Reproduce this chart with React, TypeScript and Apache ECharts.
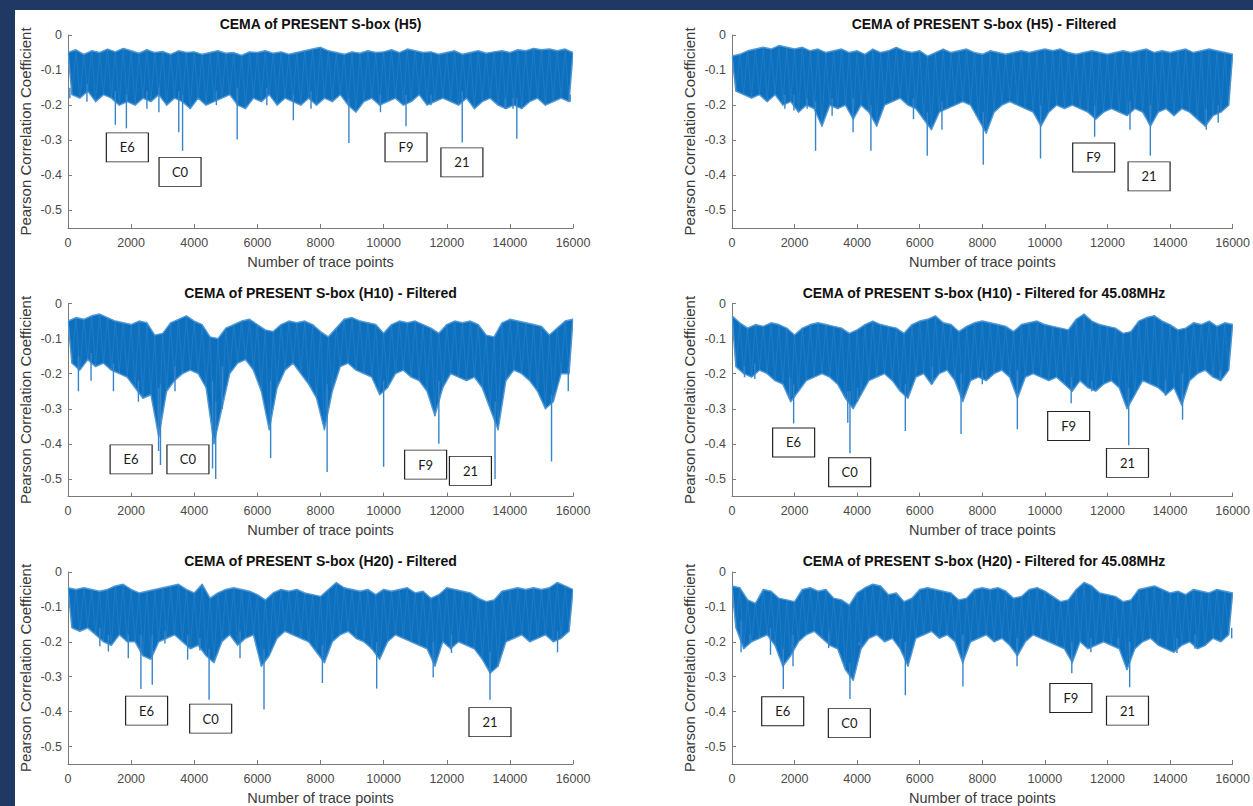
import { useEffect, useRef } from 'react';
import * as echarts from 'echarts';

// ---------- data ----------
// Each trace is stored as an upper envelope (hi, sampled every 250 trace points from 0)
// and a lower envelope (lo, sampled every 250 points from 125), plus narrow downward spikes [x, tip].
const STEP = 250;
const yTickValues = [0, -0.1, -0.2, -0.3, -0.4, -0.5];

const titles = [
  'CEMA of PRESENT S-box (H5)',
  'CEMA of PRESENT S-box (H5) - Filtered',
  'CEMA of PRESENT S-box (H10) - Filtered',
  'CEMA of PRESENT S-box (H10) - Filtered for 45.08MHz',
  'CEMA of PRESENT S-box (H20) - Filtered',
  'CEMA of PRESENT S-box (H20) - Filtered for 45.08MHz',
];

const hiH5 = [
  -0.05, -0.042, -0.055, -0.045, -0.05, -0.04, -0.048, -0.038,
  -0.045, -0.052, -0.042, -0.05, -0.047, -0.055, -0.045, -0.05,
  -0.048, -0.055, -0.05, -0.045, -0.052, -0.05, -0.058, -0.048,
  -0.05, -0.045, -0.052, -0.048, -0.055, -0.05, -0.045, -0.04,
  -0.035, -0.045, -0.05, -0.055, -0.048, -0.052, -0.045, -0.05,
  -0.048, -0.042, -0.05, -0.04, -0.045, -0.05, -0.048, -0.055,
  -0.05, -0.045, -0.055, -0.05, -0.045, -0.052, -0.048, -0.045,
  -0.05, -0.042, -0.045, -0.038, -0.042, -0.04, -0.045, -0.04,
  -0.05,
];
const loH5 = [
  -0.17, -0.18, -0.16, -0.19, -0.17, -0.18, -0.2, -0.19,
  -0.2, -0.18, -0.19, -0.17, -0.2, -0.18, -0.19, -0.21,
  -0.18, -0.2, -0.19, -0.18, -0.17, -0.2, -0.21, -0.18,
  -0.19, -0.17, -0.2, -0.18, -0.19, -0.2, -0.18, -0.2,
  -0.18, -0.19, -0.17, -0.2, -0.22, -0.19, -0.18, -0.2,
  -0.19, -0.18, -0.2, -0.19, -0.17, -0.2, -0.19, -0.18,
  -0.19, -0.2, -0.18, -0.21, -0.19, -0.18, -0.2, -0.21,
  -0.2, -0.21, -0.19, -0.18, -0.2, -0.19, -0.18, -0.19,
];
const spikesH5 = [
  [60, -0.18], [600, -0.19], [1500, -0.256], [1850, -0.266], [2500, -0.21], [2880, -0.22],
  [3510, -0.277], [3630, -0.33], [4700, -0.2], [5360, -0.298], [6300, -0.2], [7140, -0.243],
  [7700, -0.21], [8900, -0.308], [9900, -0.22], [10710, -0.26], [11500, -0.2], [12490, -0.306],
  [13850, -0.21], [14100, -0.21], [14220, -0.296], [15910, -0.19],
];
const notesH5: [string, number, number][] = [
  ['E6', 1880, -0.32], ['C0', 3550, -0.39], ['F9', 10710, -0.32], ['21', 12480, -0.363],
];

const hiH5F = [
  -0.06, -0.055, -0.045, -0.04, -0.035, -0.04, -0.03, -0.035,
  -0.04, -0.035, -0.045, -0.04, -0.05, -0.045, -0.04, -0.05,
  -0.045, -0.055, -0.04, -0.05, -0.045, -0.035, -0.045, -0.05,
  -0.045, -0.06, -0.05, -0.04, -0.05, -0.045, -0.04, -0.05,
  -0.055, -0.045, -0.05, -0.055, -0.05, -0.045, -0.05, -0.045,
  -0.04, -0.045, -0.04, -0.05, -0.055, -0.05, -0.045, -0.05,
  -0.055, -0.05, -0.045, -0.05, -0.045, -0.04, -0.05, -0.045,
  -0.05, -0.045, -0.04, -0.05, -0.045, -0.04, -0.045, -0.05,
  -0.055,
];
const loH5F = [
  -0.16, -0.17, -0.18, -0.17, -0.19, -0.17, -0.2, -0.19,
  -0.22, -0.2, -0.21, -0.26, -0.2, -0.21, -0.2, -0.24,
  -0.2, -0.22, -0.26, -0.2, -0.19, -0.18, -0.2, -0.21,
  -0.24, -0.27, -0.22, -0.21, -0.2, -0.19, -0.2, -0.24,
  -0.28, -0.22, -0.2, -0.19, -0.2, -0.21, -0.22, -0.26,
  -0.22, -0.2, -0.21, -0.2, -0.21, -0.22, -0.24, -0.22,
  -0.21, -0.22, -0.23, -0.21, -0.22, -0.26, -0.22, -0.21,
  -0.23, -0.21, -0.22, -0.24, -0.26, -0.23, -0.22, -0.2,
];
const spikesH5F = [
  [1690, -0.21], [1980, -0.215], [2400, -0.21], [2670, -0.33], [3200, -0.23], [3870, -0.277],
  [4440, -0.33], [5800, -0.24], [6240, -0.344], [6710, -0.27], [8030, -0.37], [9860, -0.352],
  [11590, -0.29], [12720, -0.27], [13370, -0.344], [15160, -0.27], [15540, -0.25],
];
const notesH5F: [string, number, number][] = [
  ['F9', 11560, -0.349], ['21', 13330, -0.403],
];

const hiH10F = [
  -0.05, -0.04, -0.045, -0.035, -0.03, -0.04, -0.05, -0.055,
  -0.06, -0.05, -0.055, -0.09, -0.085, -0.055, -0.045, -0.035,
  -0.05, -0.06, -0.095, -0.1, -0.07, -0.06, -0.05, -0.045,
  -0.06, -0.075, -0.08, -0.06, -0.05, -0.055, -0.05, -0.06,
  -0.08, -0.095, -0.07, -0.045, -0.04, -0.05, -0.055, -0.06,
  -0.085, -0.06, -0.05, -0.055, -0.05, -0.06, -0.07, -0.085,
  -0.06, -0.05, -0.055, -0.05, -0.06, -0.09, -0.095, -0.055,
  -0.045, -0.05, -0.055, -0.06, -0.065, -0.09, -0.07, -0.05,
  -0.045,
];
const loH10F = [
  -0.17, -0.19, -0.16, -0.18, -0.17, -0.19, -0.2, -0.21,
  -0.24, -0.27, -0.26, -0.38, -0.25, -0.22, -0.2, -0.19,
  -0.2, -0.24, -0.4, -0.3, -0.2, -0.17, -0.16, -0.19,
  -0.25, -0.36, -0.24, -0.19, -0.17, -0.2, -0.23, -0.27,
  -0.36, -0.25, -0.18, -0.17, -0.19, -0.2, -0.21, -0.26,
  -0.24, -0.2, -0.19, -0.21, -0.22, -0.25, -0.32, -0.24,
  -0.2, -0.21, -0.22, -0.21, -0.24, -0.3, -0.36, -0.22,
  -0.19, -0.2, -0.22, -0.25, -0.3, -0.28, -0.2, -0.2,
];
const spikesH10F = [
  [330, -0.25], [730, -0.22], [1440, -0.25], [2230, -0.28], [2870, -0.42], [2930, -0.46],
  [3390, -0.25], [4580, -0.47], [4680, -0.5], [4890, -0.3], [6420, -0.44], [8210, -0.48],
  [10000, -0.465], [11750, -0.4], [13530, -0.5], [15320, -0.45], [15850, -0.25],
];
const notesH10F: [string, number, number][] = [
  ['E6', 2000, -0.444], ['C0', 3800, -0.444], ['F9', 11330, -0.459], ['21', 12750, -0.477],
];

const hiH10M = [
  -0.035, -0.055, -0.07, -0.06, -0.065, -0.055, -0.06, -0.07,
  -0.09, -0.07, -0.06, -0.055, -0.06, -0.065, -0.07, -0.085,
  -0.075, -0.06, -0.05, -0.06, -0.065, -0.07, -0.085, -0.06,
  -0.05, -0.045, -0.035, -0.055, -0.06, -0.08, -0.065, -0.055,
  -0.05, -0.055, -0.06, -0.065, -0.08, -0.06, -0.055, -0.05,
  -0.06, -0.065, -0.07, -0.075, -0.045, -0.03, -0.05, -0.06,
  -0.065, -0.07, -0.085, -0.08, -0.05, -0.04, -0.035, -0.05,
  -0.06, -0.075, -0.07, -0.055, -0.06, -0.05, -0.065, -0.055,
  -0.06,
];
const loH10M = [
  -0.18, -0.2, -0.21, -0.19, -0.2, -0.22, -0.23, -0.28,
  -0.25, -0.22, -0.21, -0.2, -0.21, -0.23, -0.27, -0.3,
  -0.26, -0.22, -0.21, -0.2, -0.22, -0.25, -0.27, -0.21,
  -0.2, -0.23, -0.2, -0.19, -0.22, -0.28, -0.22, -0.21,
  -0.22, -0.2, -0.19, -0.21, -0.27, -0.21, -0.2, -0.21,
  -0.22, -0.21, -0.23, -0.25, -0.22, -0.24, -0.25, -0.23,
  -0.22, -0.24, -0.3, -0.26, -0.22, -0.23, -0.24, -0.26,
  -0.24, -0.29, -0.22, -0.2, -0.19, -0.21, -0.22, -0.19,
];
const spikesH10M = [
  [400, -0.21], [730, -0.215], [1840, -0.27], [1970, -0.342], [3700, -0.34], [3770, -0.427],
  [4010, -0.28], [5540, -0.363], [6410, -0.23], [7320, -0.372], [8000, -0.23], [9120, -0.358],
  [10840, -0.284], [11500, -0.25], [12680, -0.404], [13850, -0.263], [14400, -0.331], [15600, -0.22],
];
const notesH10M: [string, number, number][] = [
  ['E6', 1970, -0.396], ['C0', 3760, -0.481], ['F9', 10760, -0.349], ['21', 12640, -0.454],
];

const hiH20F = [
  -0.045, -0.05, -0.045, -0.05, -0.055, -0.05, -0.04, -0.035,
  -0.05, -0.06, -0.055, -0.05, -0.045, -0.04, -0.035, -0.05,
  -0.06, -0.035, -0.075, -0.06, -0.05, -0.045, -0.05, -0.055,
  -0.065, -0.08, -0.06, -0.05, -0.055, -0.05, -0.06, -0.065,
  -0.07, -0.05, -0.03, -0.045, -0.05, -0.055, -0.05, -0.065,
  -0.05, -0.055, -0.05, -0.045, -0.06, -0.055, -0.075, -0.065,
  -0.045, -0.05, -0.055, -0.06, -0.075, -0.085, -0.08, -0.055,
  -0.05, -0.045, -0.05, -0.045, -0.05, -0.045, -0.03, -0.04,
  -0.05,
];
const loH20F = [
  -0.16, -0.17, -0.16, -0.18, -0.2, -0.21, -0.18, -0.2,
  -0.2, -0.24, -0.25, -0.2, -0.19, -0.18, -0.2, -0.22,
  -0.21, -0.24, -0.26, -0.2, -0.18, -0.21, -0.19, -0.18,
  -0.27, -0.24, -0.19, -0.17, -0.18, -0.19, -0.2, -0.23,
  -0.26, -0.2, -0.18, -0.17, -0.19, -0.2, -0.22, -0.25,
  -0.2, -0.18, -0.19, -0.2, -0.21, -0.22, -0.27, -0.2,
  -0.22, -0.2, -0.21, -0.22, -0.25, -0.29, -0.27, -0.2,
  -0.19, -0.18, -0.2, -0.19, -0.18, -0.2, -0.19, -0.17,
];
const spikesH20F = [
  [1010, -0.213], [1280, -0.228], [1910, -0.247], [2310, -0.335], [2670, -0.323], [3070, -0.205],
  [3790, -0.251], [4180, -0.225], [4470, -0.366], [5450, -0.247], [6210, -0.394], [8060, -0.318],
  [9780, -0.334], [11570, -0.302], [12150, -0.232], [13370, -0.366], [15510, -0.23],
];
const notesH20F: [string, number, number][] = [
  ['E6', 2490, -0.397], ['C0', 4520, -0.42], ['21', 13370, -0.43],
];

const hiH20M = [
  -0.04, -0.045, -0.08, -0.09, -0.05, -0.055, -0.075, -0.08,
  -0.085, -0.05, -0.045, -0.055, -0.05, -0.075, -0.08, -0.095,
  -0.06, -0.045, -0.035, -0.04, -0.065, -0.06, -0.085, -0.075,
  -0.05, -0.045, -0.05, -0.055, -0.06, -0.08, -0.075, -0.05,
  -0.045, -0.05, -0.045, -0.055, -0.075, -0.07, -0.05, -0.045,
  -0.055, -0.07, -0.085, -0.08, -0.05, -0.03, -0.04, -0.06,
  -0.065, -0.07, -0.085, -0.08, -0.05, -0.045, -0.04, -0.05,
  -0.06, -0.055, -0.065, -0.05, -0.055, -0.06, -0.05, -0.055,
  -0.06,
];
const loH20M = [
  -0.16, -0.22, -0.2, -0.19, -0.18, -0.21, -0.27, -0.24,
  -0.2, -0.18, -0.17, -0.19, -0.21, -0.22, -0.28, -0.31,
  -0.22, -0.19, -0.18, -0.2, -0.19, -0.22, -0.27, -0.19,
  -0.18, -0.17, -0.19, -0.18, -0.2, -0.26, -0.2, -0.19,
  -0.18, -0.2, -0.19, -0.21, -0.24, -0.2, -0.18, -0.19,
  -0.2, -0.21, -0.22, -0.26, -0.2, -0.22, -0.21, -0.2,
  -0.21, -0.22, -0.28, -0.22, -0.2, -0.19, -0.21, -0.22,
  -0.23, -0.21, -0.2, -0.22, -0.21, -0.19, -0.2, -0.18,
];
const spikesH20M = [
  [290, -0.23], [570, -0.2], [1230, -0.237], [1640, -0.335], [1950, -0.27], [3090, -0.218],
  [3770, -0.364], [4060, -0.21], [5540, -0.353], [7380, -0.328], [9110, -0.27], [10860, -0.29],
  [11470, -0.23], [12340, -0.21], [12710, -0.33], [14220, -0.232], [14800, -0.22], [15970, -0.19],
];
const notesH20M: [string, number, number][] = [
  ['E6', 1620, -0.399], ['C0', 3750, -0.433], ['F9', 10830, -0.361], ['21', 12640, -0.397],
];

const panels = [
  { title: titles[0], hi: hiH5, lo: loH5, spikes: spikesH5, notes: notesH5 },
  { title: titles[1], hi: hiH5F, lo: loH5F, spikes: spikesH5F, notes: notesH5F },
  { title: titles[2], hi: hiH10F, lo: loH10F, spikes: spikesH10F, notes: notesH10F },
  { title: titles[3], hi: hiH10M, lo: loH10M, spikes: spikesH10M, notes: notesH10M },
  { title: titles[4], hi: hiH20F, lo: loH20F, spikes: spikesH20F, notes: notesH20F },
  { title: titles[5], hi: hiH20M, lo: loH20M, spikes: spikesH20M, notes: notesH20M },
];

// ---------- layout & style ----------
const NAVY = '#1f3864';
const OX = 15;
const OY = 10;
const colLeft = [68 - OX, 732 - OX];
const colWidth = [505, 504];
const rowTop = [35 - OY, 303.5 - OY, 572 - OY];
const plotH = 193;
const FONT = '"Liberation Sans", Arial, Helvetica, sans-serif';
const CORE = '#0d70bf';
const FRINGE = '#5299d5';
const TRACE = '#3d8bcd';
const SPIKE = '#3585cb';

export default function App() {
  const ref = useRef<HTMLDivElement>(null);

  useEffect(() => {
    const chart = echarts.init(ref.current as HTMLDivElement, null, { renderer: 'svg' });
    const grid: any[] = [];
    const xAxis: any[] = [];
    const yAxis: any[] = [];
    const series: any[] = [];
    const title: any[] = [];

    panels.forEach((p, i) => {
      const col = i % 2;
      const row = Math.floor(i / 2);
      grid.push({ left: colLeft[col], top: rowTop[row], width: colWidth[col], height: plotH });
      title.push({
        text: p.title,
        left: colLeft[col] + colWidth[col] / 2,
        top: rowTop[row] - 18,
        textAlign: 'center',
        padding: 0,
        textStyle: { fontFamily: FONT, fontSize: 14, fontWeight: 'bold', color: '#111' },
      });
      xAxis.push({
        type: 'value',
        gridIndex: i,
        min: 0,
        max: 16000,
        interval: 2000,
        name: 'Number of trace points',
        nameLocation: 'middle',
        nameGap: 26,
        nameTextStyle: { fontFamily: FONT, fontSize: 14.5, color: '#3a3a3a' },
        axisLine: { show: true, onZero: false, lineStyle: { color: '#7a7a7a', width: 1 } },
        axisTick: { show: true, inside: true, length: 4, lineStyle: { color: '#7a7a7a' } },
        axisLabel: {
          fontFamily: FONT,
          fontSize: 12.5,
          color: '#4a4a4a',
          margin: 8,
          formatter: (v: number) => String(v),
        },
        splitLine: { show: false },
      });
      yAxis.push({
        type: 'value',
        gridIndex: i,
        min: -0.55,
        max: 0,
        name: 'Pearson Correlation Coefficient',
        nameLocation: 'middle',
        nameGap: 35,
        nameRotate: 90,
        nameTextStyle: { fontFamily: FONT, fontSize: 15, color: '#3a3a3a' },
        axisLine: { show: true, lineStyle: { color: '#7a7a7a', width: 1 } },
        axisTick: { show: true, inside: true, length: 4, customValues: yTickValues, lineStyle: { color: '#7a7a7a' } },
        axisLabel: {
          fontFamily: FONT,
          fontSize: 12.5,
          color: '#4a4a4a',
          margin: 6,
          customValues: yTickValues,
          formatter: (v: number) => (v === 0 ? '0' : v.toFixed(1)),
        },
        splitLine: { show: false },
      });

      // envelope band of the trace: upper envelope forward, lower envelope back
      series.push({
        type: 'custom',
        xAxisIndex: i,
        yAxisIndex: i,
        silent: true,
        clip: true,
        z: 2,
        data: [[0, p.hi[0]]],
        renderItem: (params: any, api: any) => {
          if (params.dataIndex !== 0) return null;
          const pts: number[][] = [];
          p.hi.forEach((v, k) => pts.push(api.coord([k * STEP, v])));
          for (let k = p.lo.length - 1; k >= 0; k--) pts.push(api.coord([k * STEP + STEP / 2, p.lo[k]]));
          return {
            type: 'polygon',
            shape: { points: pts },
            style: { fill: CORE, stroke: FRINGE, lineWidth: 1.4, lineJoin: 'round' },
          };
        },
      });

      // the oscillating trace itself, faintly, for texture
      const zig: number[][] = [];
      p.hi.forEach((h, k) => {
        zig.push([k * STEP, h]);
        if (k < p.lo.length) zig.push([k * STEP + STEP / 2, p.lo[k]]);
      });
      series.push({
        type: 'line',
        xAxisIndex: i,
        yAxisIndex: i,
        data: zig,
        symbol: 'none',
        silent: true,
        z: 3,
        lineStyle: { color: TRACE, width: 0.8, opacity: 0.45, join: 'round' },
      });

      // narrow spikes
      series.push({
        type: 'custom',
        xAxisIndex: i,
        yAxisIndex: i,
        silent: true,
        clip: true,
        z: 4,
        data: p.spikes,
        renderItem: (_params: any, api: any) => {
          const x = api.value(0);
          const tip = api.value(1);
          const k = Math.max(0, Math.min(p.lo.length - 1, Math.floor((x - STEP / 2) / STEP)));
          const k2 = Math.min(p.lo.length - 1, k + 1);
          const base = Math.max(p.lo[k], p.lo[k2]) + 0.02;
          const a = api.coord([x, base]);
          const b = api.coord([x, tip]);
          return {
            type: 'line',
            shape: { x1: a[0], y1: a[1], x2: b[0], y2: b[1] },
            style: { stroke: SPIKE, lineWidth: 1.4 },
          };
        },
      });

      // annotation boxes
      series.push({
        type: 'scatter',
        xAxisIndex: i,
        yAxisIndex: i,
        silent: true,
        z: 10,
        symbol: 'rect',
        symbolSize: [42, 29],
        itemStyle: { color: '#ffffff', borderColor: '#222222', borderWidth: 1, opacity: 1 },
        label: {
          show: true,
          position: 'inside',
          formatter: '{b}',
          fontFamily: 'Lato, "Open Sans", sans-serif',
          fontSize: 13,
          color: '#1a1a1a',
        },
        data: p.notes.map((n) => ({ name: n[0], value: [n[1], n[2]] })),
      });
    });

    chart.setOption({
      animation: false,
      backgroundColor: '#ffffff',
      title,
      grid,
      xAxis,
      yAxis,
      series,
    });
    return () => chart.dispose();
  }, []);

  return (
    <div style={{ position: 'fixed', left: 0, top: 0, width: 1253, height: 806, background: NAVY }}>
      <div
        ref={ref}
        style={{ position: 'absolute', left: OX, top: OY, width: 1253 - OX, height: 806 - OY, background: '#ffffff' }}
      />
    </div>
  );
}
